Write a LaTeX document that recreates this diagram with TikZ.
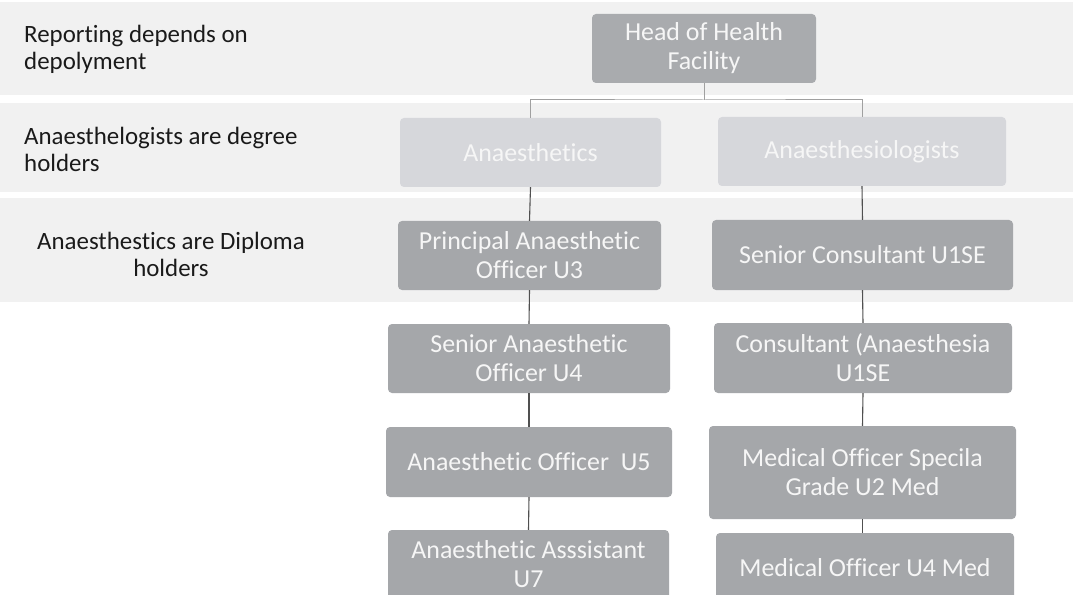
\documentclass[tikz,border=0pt]{standalone}
\usepackage{fontspec}
\setmainfont{Carlito}[Ligatures=NoCommon]
\definecolor{darkbox}{HTML}{A5A7AA}
\definecolor{lightbox}{HTML}{D6D7DB}
\definecolor{headbox}{HTML}{A9ABAE}
\definecolor{boxtext}{HTML}{F6F6F6}
\definecolor{linecol}{HTML}{505050}
\definecolor{toplinecol}{HTML}{A0A0A0}
\definecolor{bandcol}{HTML}{F1F1F1}
\definecolor{labelcol}{HTML}{1A1A1A}
\begin{document}
\begin{tikzpicture}[x=1bp,y=-1bp,
  box/.style={rectangle, rounded corners=4bp, fill=darkbox, text=boxtext, align=center,
    inner sep=0pt, font=\fontsize{26}{29}\selectfont},
  lbox/.style={box, fill=lightbox},
  note/.style={inner sep=0pt, text=labelcol, font=\fontsize{25}{28}\selectfont},
  conn/.style={draw=linecol, line width=1.1bp},
  topconn/.style={draw=toplinecol, line width=1bp}]
\useasboundingbox (0,0) rectangle (1073,595);
\fill[white] (0,0) rectangle (1073,595);
\fill[bandcol] (0,2) rectangle (1073,95);
\fill[bandcol] (0,103) rectangle (1073,192);
\fill[bandcol] (0,198) rectangle (1073,302);
% left notes (base anchor = baseline of the last line)
\node[note, anchor=base west, align=left] (n1) at (24,70) {Reporting depends on\\depolyment};
\node[note, anchor=base west, align=left] (n2) at (24,172) {Anaesthelogists are degree\\holders};
\node[note, anchor=base, align=center] (n3) at (171,277) {Anaesthestics are Diploma\\holders};
% boxes
\node[box, fill=headbox, minimum width=224bp, minimum height=69bp] (head) at (704,48.5) {Head of Health\\Facility};
\node[lbox, minimum width=261bp, minimum height=69bp] (anL) at (530.5,152.5) {Anaesthetics};
\node[lbox, minimum width=288bp, minimum height=69bp] (anR) at (862,151.5) {Anaesthesiologists};
\node[box, minimum width=263bp, minimum height=69bp] (l2) at (529.5,255.5) {Principal Anaesthetic\\Officer U3};
\node[box, minimum width=301bp, minimum height=70bp] (r2) at (862.5,255) {Senior Consultant U1SE};
\node[box, minimum width=282bp, minimum height=69bp] (l3) at (529,358.5) {Senior Anaesthetic\\Officer U4};
\node[box, minimum width=298bp, minimum height=70bp] (r3) at (863,358) {Consultant (Anaesthesia\\U1SE};
\node[box, minimum width=286bp, minimum height=70bp] (l4) at (529,462) {Anaesthetic Officer\ \ U5};
\node[box, minimum width=307bp, minimum height=93bp] (r4) at (862.5,472.5) {Medical Officer Specila\\Grade U2 Med};
\node[box, minimum width=281bp, minimum height=69bp] (l5) at (528.5,564.5) {Anaesthetic Asssistant\\U7};
\node[box, minimum width=298bp, minimum height=69bp] (r5) at (865,567.5) {Medical Officer U4 Med};
% connectors
\coordinate (j) at (704,100);
\draw[topconn] (head.south) -- (j);
\draw[topconn] (anL.north) |- (j) -| (anR.north);
\draw[conn] (anL.south) -- (l2.north);
\draw[conn] (l2.south) -- (l3.north);
\draw[conn] (l3.south) -- (l4.north);
\draw[conn] (l4.south) -- (l5.north);
\draw[conn] (anR.south) -- (r2.north);
\draw[conn] (r2.south) -- (r3.north);
\draw[conn] (r3.south) -- (r4.north);
\draw[conn] (r4.south) -- (r4.south |- r5.north);
\end{tikzpicture}
\end{document}
